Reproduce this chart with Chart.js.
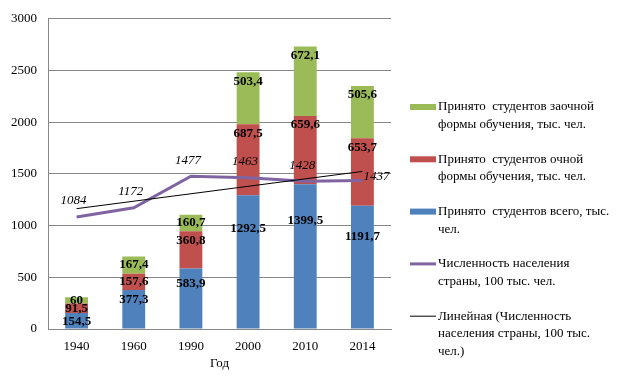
<!DOCTYPE html>
<html>
<head>
<meta charset="utf-8">
<script src="https://cdn.jsdelivr.net/npm/chart.js@4.4.1/dist/chart.umd.min.js"></script>
<style>
  html, body { margin: 0; background: #fff; }
</style>
</head>
<body>
<canvas id="chart" width="618" height="379"></canvas>
<script>
const years = ["1940", "1960", "1990", "2000", "2010", "2014"];
const totalAdmitted = [154.5, 377.3, 583.9, 1292.5, 1399.5, 1191.7];
const fullTime = [91.5, 157.6, 360.8, 687.5, 659.6, 653.7];
const extramural = [60, 167.4, 160.7, 503.4, 672.1, 505.6];
const population = [1084, 1172, 1477, 1463, 1428, 1437];
// linear trend, ends
const populationTrend = [1164, null, null, null, null, 1524];

const legendLines = [
  ["Принято  студентов заочной", "формы обучения, тыс. чел."],
  ["Принято  студентов очной", "формы обучения, тыс. чел."],
  ["Принято  студентов всего, тыс.", "чел."],
  ["Численность населения", "страны, 100 тыс. чел."],
  ["Линейная (Численность", "населения страны, 100 тыс.", "чел.)"],
];

const serif = "'Liberation Serif', 'Times New Roman', serif";
const fmt = (v) => String(v).replace(".", ",");

const valueLabels = {
  id: "valueLabels",
  afterDatasetsDraw(chart) {
    const ctx = chart.ctx;
    ctx.save();
    ctx.fillStyle = "#000";
    ctx.textAlign = "center";
    ctx.textBaseline = "middle";
    ctx.font = "bold 13px " + serif;
    [0, 1, 2].forEach((di) => {
      chart.getDatasetMeta(di).data.forEach((bar, i) => {
        const h = bar.base - bar.y;
        const off = di === 0 ? Math.max(9, h * 0.25) : Math.min(9, h / 2);
        ctx.fillText(fmt(chart.data.datasets[di].data[i]), bar.x, bar.y + off);
      });
    });

    ctx.font = "italic 13px " + serif;
    const points = chart.getDatasetMeta(3).data;
    points.forEach((pt, i) => {
      if (i === points.length - 1) {
        ctx.textAlign = "left";
        ctx.fillText(fmt(population[i]), pt.x + 1, pt.y - 4);
      } else {
        ctx.textAlign = "center";
        ctx.fillText(fmt(population[i]), pt.x - 3, pt.y - 16);
      }
    });
    ctx.restore();
  },
  afterDraw(chart) {
    const ctx = chart.ctx;
    const order = [2, 1, 0, 3, 4];
    ctx.save();
    ctx.font = "13px " + serif;
    ctx.textBaseline = "middle";
    ctx.fillStyle = "#000";
    order.forEach((di, k) => {
      const ds = chart.data.datasets[di];
      const y = 107 + k * 52.3;
      if (ds.type === "line") {
        ctx.strokeStyle = ds.borderColor;
        ctx.lineWidth = ds.borderWidth;
        ctx.beginPath();
        ctx.moveTo(410, y);
        ctx.lineTo(436, y);
        ctx.stroke();
      } else {
        ctx.fillStyle = ds.backgroundColor;
        ctx.fillRect(410, y - 3, 26, 6);
      }
      ctx.fillStyle = "#000";
      legendLines[k].forEach((line, j) => ctx.fillText(line, 438, y + j * 17.5));
    });
    ctx.restore();
  },
};

new Chart(document.getElementById("chart"), {
  data: {
    labels: years,
    datasets: [
      { type: "bar", label: "Принято студентов всего, тыс. чел.", data: totalAdmitted, backgroundColor: "#4f81bd", stack: "students", order: 2 },
      { type: "bar", label: "Принято студентов очной формы обучения, тыс. чел.", data: fullTime, backgroundColor: "#c0504d", stack: "students", order: 2 },
      { type: "bar", label: "Принято студентов заочной формы обучения, тыс. чел.", data: extramural, backgroundColor: "#9bbb59", stack: "students", order: 2 },
      { type: "line", label: "Численность населения страны, 100 тыс. чел.", data: population, borderColor: "#8064a2", borderWidth: 3, pointRadius: 0, stack: "pop", order: 1, tension: 0 },
      { type: "line", label: "Линейная (Численность населения страны, 100 тыс. чел.)", data: populationTrend, borderColor: "#000", borderWidth: 1, pointRadius: 0, spanGaps: true, stack: "trend", order: 0 },
    ],
  },
  options: {
    responsive: false,
    animation: false,
    layout: { padding: { left: 0, right: 227, top: 15, bottom: 0 } },
    datasets: { bar: { barPercentage: 0.4, categoryPercentage: 1 } },
    plugins: { legend: { display: false }, tooltip: { enabled: false } },
    scales: {
      x: {
        stacked: true,
        grid: { display: false },
        border: { display: true, color: "#878787" },
        ticks: { color: "#000", font: { family: serif, size: 13 }, padding: 2 },
        title: { display: true, text: "Год", color: "#000", font: { family: serif, size: 13 }, padding: { top: 0, bottom: 8 } },
        afterFit: (scale) => { scale.height = 50; },
      },
      y: {
        stacked: true,
        min: 0,
        max: 3000,
        grid: { color: "#878787", drawTicks: false },
        border: { display: true, color: "#878787" },
        ticks: { stepSize: 500, color: "#000", font: { family: serif, size: 13 }, padding: 11, callback: (v) => String(v) },
        afterFit: (scale) => { scale.width = 48; },
      },
    },
  },
  plugins: [valueLabels],
});
</script>
</body>
</html>
